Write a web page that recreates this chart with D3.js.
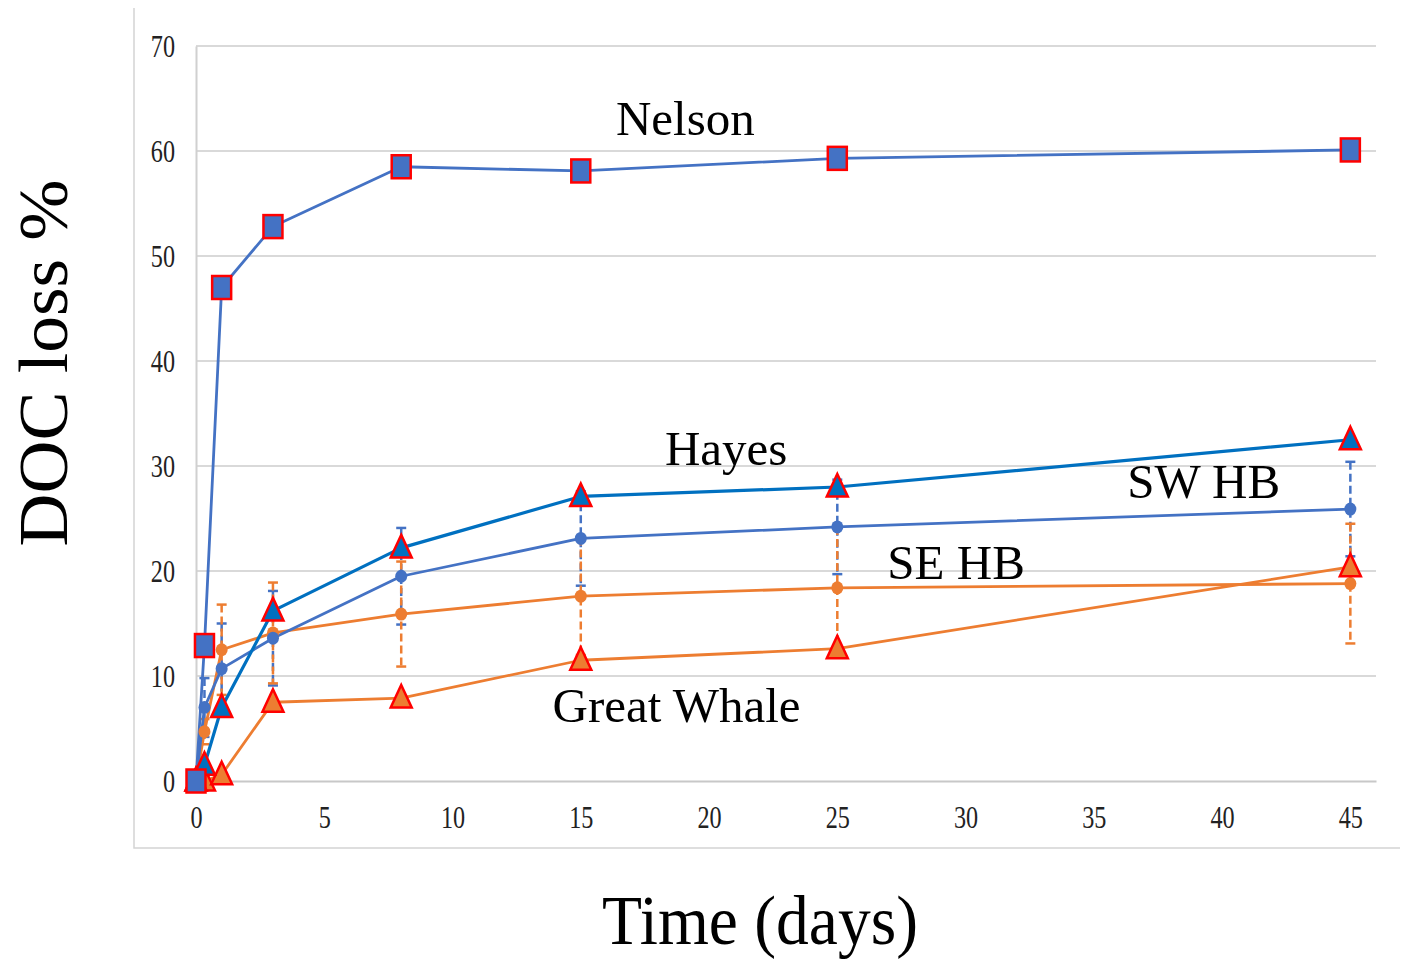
<!DOCTYPE html>
<meta charset="utf-8">
<head>
<style>
  body { margin: 0; background: #fff; }
  text { font-family: "Liberation Serif", "Times New Roman", serif; }
  .tick text { fill: #222; }
</style>
</head>
<body>
<script src="https://d3js.org/d3.v7.min.js"></script>
<script>
// data
var days = [0, 0.33, 1, 3, 8, 15, 25, 45];
var nelson = [0, 12.9, 47.0, 52.8, 58.5, 58.1, 59.3, 60.1];
var hayes = [0, 1.5, 7.0, 16.2, 22.2, 27.1, 28.0, 32.5];
var swHB = [0, 7.0, 10.7, 13.6, 19.5, 23.1, 24.2, 25.9];
var swHBErr = [0, 2.8, 4.3, 4.5, 4.6, 4.5, 4.5, 4.5];
var seHB = [0, 4.7, 12.5, 14.1, 15.9, 17.6, 18.4, 18.8];
var seHBErr = [0, 1.2, 4.3, 4.8, 5.0, 5.6, 5.8, 5.7];
var greatWhale = [0, 0, 0.6, 7.5, 7.9, 11.5, 12.6, 20.4];
var xTicks = [0, 5, 10, 15, 20, 25, 30, 35, 40, 45];
var yTicks = [0, 10, 20, 30, 40, 50, 60, 70];
var seriesNames = ["Nelson", "Hayes", "SW HB", "SE HB", "Great Whale"];

var W = 1402, H = 959;
var x = d3.scaleLinear().domain([0, 46]).range([196, 1376]);
var y = d3.scaleLinear().domain([0, 70]).range([781, 46]);

var svg = d3.select("body").append("svg")
    .attr("width", W)
    .attr("height", H);

// chart area border (left + bottom only)
svg.append("path")
    .attr("d", "M134,8V848H1400")
    .attr("fill", "none")
    .attr("stroke", "#d4d4d4")
    .attr("stroke-width", 1.5);

// gridlines
svg.append("g")
    .selectAll("line")
    .data(yTicks.slice(1))
    .enter().append("line")
    .attr("x1", x.range()[0])
    .attr("x2", x.range()[1])
    .attr("y1", function(d) { return y(d); })
    .attr("y2", function(d) { return y(d); })
    .attr("stroke", "#d9d9d9")
    .attr("stroke-width", 2);

// y axis
var yAxis = svg.append("g")
    .attr("transform", "translate(196,0)")
    .call(d3.axisLeft(y).tickValues(yTicks).tickSize(0).tickPadding(0));
yAxis.select(".domain").attr("stroke", "#d0d0d0").attr("stroke-width", 2);
yAxis.selectAll("text")
    .attr("x", 0)
    .attr("dy", "0.35em")
    .style("font-size", "31px")
    .attr("transform", "translate(-21,0) scale(0.78,1)");

// x axis
var xAxis = svg.append("g")
    .attr("transform", "translate(0,781)")
    .call(d3.axisBottom(x).tickValues(xTicks).tickSize(0).tickPadding(0));
xAxis.select(".domain").attr("stroke", "#c8c8c8").attr("stroke-width", 2);
xAxis.selectAll("text")
    .attr("y", 47)
    .attr("dy", 0)
    .style("font-size", "31px")
    .attr("transform", "scale(0.78,1)");

// error bars
function errorBars(vals, errs, color) {
    var g = svg.append("g");
    days.forEach(function(d, i) {
        if (!errs[i]) return;
        var cx = x(d), top = y(vals[i] + errs[i]), bot = y(vals[i] - errs[i]);
        g.append("line")
            .attr("x1", cx).attr("x2", cx)
            .attr("y1", top).attr("y2", bot)
            .attr("stroke", color).attr("stroke-width", 2.5)
            .attr("stroke-dasharray", "8,4");
        [top, bot].forEach(function(yy) {
            g.append("line")
                .attr("x1", cx - 5).attr("x2", cx + 5)
                .attr("y1", yy).attr("y2", yy)
                .attr("stroke", color).attr("stroke-width", 2.5);
        });
    });
}
errorBars(swHB, swHBErr, "#4472C4");
errorBars(seHB, seHBErr, "#ED7D31");

// lines
var line = d3.line()
    .x(function(d, i) { return x(days[i]); })
    .y(function(d) { return y(d); });

function drawLine(vals, color, w) {
    svg.append("path")
        .datum(vals)
        .attr("d", line)
        .attr("fill", "none")
        .attr("stroke", color)
        .attr("stroke-width", w)
        .attr("stroke-linejoin", "round");
}
drawLine(greatWhale, "#ED7D31", 2.8);
drawLine(seHB, "#ED7D31", 2.8);
drawLine(swHB, "#4472C4", 2.8);
drawLine(hayes, "#0070C0", 3.2);
drawLine(nelson, "#4472C4", 2.8);

// markers
function circles(vals, color) {
    svg.append("g").selectAll("ellipse")
        .data(vals)
        .enter().append("ellipse")
        .attr("cx", function(d, i) { return x(days[i]); })
        .attr("cy", function(d) { return y(d); })
        .attr("rx", 6).attr("ry", 6.5)
        .attr("fill", color);
}
function triangles(vals, fill) {
    svg.append("g").selectAll("path")
        .data(vals)
        .enter().append("path")
        .attr("d", function(d, i) {
            var cx = x(days[i]), cy = y(d);
            return "M" + cx + "," + (cy - 13) + "L" + (cx + 10.5) + "," + (cy + 9.5) +
                "L" + (cx - 10.5) + "," + (cy + 9.5) + "Z";
        })
        .attr("fill", fill)
        .attr("stroke", "#FF0000")
        .attr("stroke-width", 2.5)
        .attr("stroke-linejoin", "miter");
}
function squares(vals, fill) {
    svg.append("g").selectAll("rect")
        .data(vals)
        .enter().append("rect")
        .attr("x", function(d, i) { return x(days[i]) - 9.5; })
        .attr("y", function(d) { return y(d) - 11.5; })
        .attr("width", 19).attr("height", 23)
        .attr("fill", fill)
        .attr("stroke", "#FF0000")
        .attr("stroke-width", 2.5);
}
circles(seHB, "#ED7D31");
circles(swHB, "#4472C4");
triangles(greatWhale, "#ED7D31");
triangles(hayes, "#0070C0");
squares(nelson, "#4472C4");

// series labels, anchored in data units
var labelAt = {
    "Nelson": [16.37, 61.5],
    "Hayes": [18.28, 30.1],
    "SW HB": [36.3, 27.0],
    "SE HB": [26.95, 19.2],
    "Great Whale": [13.9, 5.6]
};
svg.append("g").selectAll("text")
    .data(seriesNames)
    .enter().append("text")
    .attr("x", function(d) { return x(labelAt[d][0]); })
    .attr("y", function(d) { return y(labelAt[d][1]); })
    .style("font-size", "49px")
    .attr("fill", "#000")
    .text(function(d) { return d; });

// axis titles
svg.append("text")
    .attr("transform", "translate(67,363) rotate(-90)")
    .attr("text-anchor", "middle")
    .style("font-size", "70px")
    .attr("textLength", 367)
    .attr("lengthAdjust", "spacingAndGlyphs")
    .text("DOC loss %");

svg.append("text")
    .attr("x", 760)
    .attr("y", 944)
    .attr("text-anchor", "middle")
    .style("font-size", "70px")
    .attr("textLength", 316)
    .attr("lengthAdjust", "spacingAndGlyphs")
    .text("Time  (days)");
</script>
</body>
